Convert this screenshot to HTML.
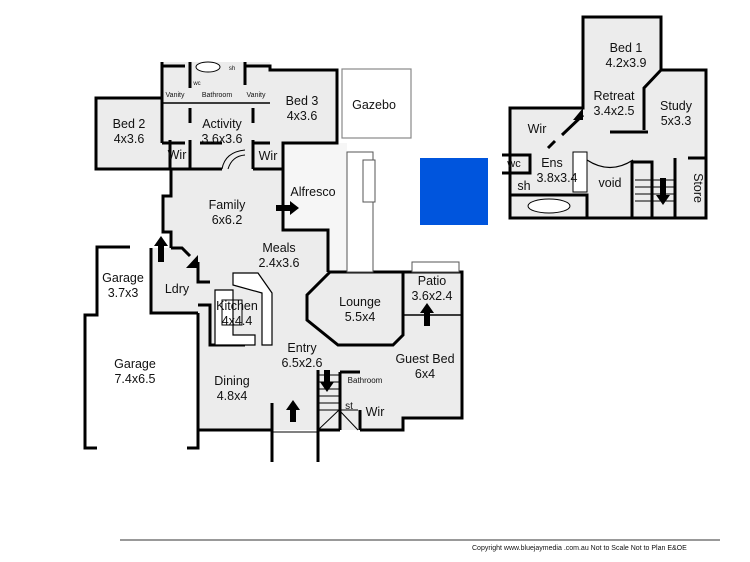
<!DOCTYPE html>
<html><head><meta charset="utf-8"><style>
html,body{margin:0;padding:0;background:#fff;}
svg{display:block;}
text{font-family:"Liberation Sans",Arial,sans-serif;fill:#111;}
.l{font-size:12.5px;text-anchor:middle;}
.s{font-size:8px;text-anchor:middle;}
</style></head><body>
<svg width="750" height="562" viewBox="0 0 750 562" xmlns="http://www.w3.org/2000/svg">
<polygon fill="#ececec" points="96,98 162,98 162,62 270,62 270,70 337,70 337,143 283,143 283,230 328,230 328,272 462,272 462,418 403,418 403,430 198,430 198,313 151,313 151,248 171,248 171,232 163,232 163,196 171,196 171,169 96,169"/>
<polygon fill="#f6f6f6" points="283,143 347,143 347,272 328,272 328,230 283,230"/>
<g fill="none" stroke="#000" stroke-width="3">
<polyline points="171,169 96,169 96,98 162,98 162,62"/>
<polyline points="245,62 245,66 270,66 270,70 337,70 337,143 283,143 283,230 328,230 328,272"/>
<polyline points="162,66 185,66"/>
<polygon points="330,272 403,272 403,335 393,345 338,345 307,320 307,295"/>
<polyline points="403,272 462,272 462,418 403,418 403,430 360,430"/>
<polyline points="340,430 318,430"/>
<polyline points="272,430 198,430 198,313"/>
<polyline points="171,169 171,196 163,196 163,232 171,232 171,248"/>
<polyline points="151,248 151,313 198,313"/>
<polyline points="171,248 182,248 190,256"/>
<polyline points="198,262 198,282 210,282"/>
<polyline points="198,305 210,305 210,345 245,345"/>
<line x1="162" y1="98" x2="162" y2="143"/>
<line x1="162" y1="143" x2="185" y2="143"/>
<line x1="200" y1="143" x2="222" y2="143"/>
<line x1="190" y1="108" x2="190" y2="123"/>
<line x1="253" y1="108" x2="253" y2="123"/>
<line x1="170" y1="140" x2="170" y2="169"/>
<line x1="190" y1="140" x2="190" y2="169"/>
<line x1="253" y1="140" x2="253" y2="169"/>
<line x1="253" y1="143" x2="270" y2="143"/>
<line x1="253" y1="169" x2="283" y2="169"/>
<line x1="171" y1="169" x2="222" y2="169"/>
<line x1="190" y1="62" x2="190" y2="88"/>
<line x1="245" y1="66" x2="245" y2="85"/>
<polyline points="130,247 97,247 97,315 85,315 85,448 97,448"/>
<polyline points="187,448 198,448 198,430"/>
<line x1="272" y1="430" x2="272" y2="462"/>
<line x1="318" y1="430" x2="318" y2="462"/>
<line x1="272" y1="403" x2="272" y2="430"/>
<polyline points="340,372 360,372 M373,372 393,372 393,392 340,392"/>
<line x1="340" y1="372" x2="340" y2="430"/>
<line x1="360" y1="410" x2="360" y2="430"/>
<line x1="318" y1="370" x2="318" y2="430"/>
</g>
<line x1="162" y1="103" x2="270" y2="103" stroke="#000" stroke-width="1.5"/>
<line x1="403" y1="315" x2="462" y2="315" stroke="#000" stroke-width="1.5"/>
<line x1="272" y1="432" x2="318" y2="432" stroke="#000" stroke-width="1"/>
<path d="M222,169 Q225,152 245,150" fill="none" stroke="#000" stroke-width="1"/>
<path d="M228,169 Q232,156 245,155" fill="none" stroke="#000" stroke-width="1"/>
<polygon points="233,273 258,273 272,293 272,345 262,345 262,293 233,285" fill="#fff" stroke="#000" stroke-width="1.2"/>
<polygon points="215,290 233,290 233,335 255,335 255,345 215,345" fill="#fff" stroke="#000" stroke-width="1.2"/>
<rect x="222" y="300" width="20" height="25" fill="none" stroke="#000" stroke-width="1"/>
<rect x="347" y="152" width="26" height="120" fill="#fff" stroke="#555" stroke-width="1"/>
<rect x="363" y="160" width="12" height="42" fill="#fff" stroke="#555" stroke-width="1"/>
<rect x="412" y="262" width="47" height="10" fill="#fff" stroke="#555" stroke-width="1"/>
<g stroke="#000" stroke-width="1">
<line x1="318" y1="375" x2="340" y2="375"/><line x1="318" y1="382" x2="340" y2="382"/><line x1="318" y1="389" x2="340" y2="389"/><line x1="318" y1="396" x2="340" y2="396"/><line x1="318" y1="403" x2="340" y2="403"/><line x1="318" y1="410" x2="358" y2="410"/>
<line x1="318" y1="430" x2="339" y2="410"/><line x1="339" y1="410" x2="358" y2="430"/>
</g>
<g fill="#000">
<polygon points="276,205 290,205 290,201 299,208 290,215 290,211 276,211"/>
<polygon points="158,262 158,246 154,246 161,236 168,246 164,246 164,262"/>
<polygon points="424,326 424,313 420,313 427,303 434,313 430,313 430,326"/>
<polygon points="290,422 290,410 286,410 293,400 300,410 296,410 296,422"/>
<polygon points="324,370 324,382 320,382 327,392 334,382 330,382 330,370"/>
<polygon points="186,268 198,268 198,255"/>
</g>
<ellipse cx="208" cy="67" rx="12" ry="5" fill="#fff" stroke="#000"/>
<rect x="342" y="69" width="69" height="69" fill="#fff" stroke="#888" stroke-width="1.2"/>
<rect x="420" y="158" width="68" height="67" fill="#0055dd"/>
<polygon fill="#ececec" stroke="#000" stroke-width="3" points="583,17 661,17 661,70 706,70 706,218 510,218 510,108 583,108"/>
<g fill="none" stroke="#000" stroke-width="3">
<polyline points="661,70 644,88 644,130"/>
<line x1="610" y1="132" x2="648" y2="132"/>
<line x1="562" y1="135" x2="583" y2="115"/>
<line x1="548" y1="148" x2="555" y2="141"/>
<polyline points="502,155 530,155 530,173 502,173"/>
<polyline points="510,195 587,195 587,218"/>
<polyline points="632,218 632,162 652,162 652,218"/>
<line x1="675" y1="158" x2="675" y2="218"/>
<line x1="688" y1="158" x2="706" y2="158"/>
</g>
<polygon points="583,108 583,120 573,120" fill="#000"/>
<rect x="573" y="152" width="14" height="40" fill="#fff" stroke="#000" stroke-width="1"/>
<ellipse cx="549" cy="206" rx="21" ry="7" fill="#fff" stroke="#000"/>
<path d="M587,160 Q610,175 633,160" fill="none" stroke="#000" stroke-width="1.2"/>
<g stroke="#000" stroke-width="1"><line x1="635" y1="180" x2="675" y2="180"/><line x1="635" y1="187" x2="675" y2="187"/><line x1="635" y1="194" x2="675" y2="194"/><line x1="635" y1="201" x2="675" y2="201"/></g>
<polygon points="660,178 666,178 666,195 670,195 663,205 656,195 660,195" fill="#000"/>
<text class="l" x="129" y="128">Bed 2</text><text class="l" x="129" y="143">4x3.6</text>
<text class="l" x="222" y="128">Activity</text><text class="l" x="222" y="143">3.6x3.6</text>
<text class="l" x="302" y="105">Bed 3</text><text class="l" x="302" y="120">4x3.6</text>
<text class="l" x="177" y="159">Wir</text><text class="l" x="268" y="160">Wir</text>
<text class="s" x="175" y="97" style="font-size:7px">Vanity</text>
<text class="s" x="217" y="97" style="font-size:7px">Bathroom</text>
<text class="s" x="256" y="97" style="font-size:7px">Vanity</text>
<text class="s" x="197" y="85" style="font-size:6px">wc</text>
<text class="s" x="232" y="70" style="font-size:6px">sh</text>
<text class="l" x="374" y="109">Gazebo</text>
<text class="l" x="313" y="196">Alfresco</text>
<text class="l" x="227" y="209">Family</text><text class="l" x="227" y="224">6x6.2</text>
<text class="l" x="279" y="252">Meals</text><text class="l" x="279" y="267">2.4x3.6</text>
<text class="l" x="123" y="282">Garage</text><text class="l" x="123" y="297">3.7x3</text>
<text class="l" x="177" y="293">Ldry</text>
<text class="l" x="237" y="310">Kitchen</text><text class="l" x="237" y="325">4x4.4</text>
<text class="l" x="360" y="306">Lounge</text><text class="l" x="360" y="321">5.5x4</text>
<text class="l" x="432" y="285">Patio</text><text class="l" x="432" y="300">3.6x2.4</text>
<text class="l" x="302" y="352">Entry</text><text class="l" x="302" y="367">6.5x2.6</text>
<text class="l" x="135" y="368">Garage</text><text class="l" x="135" y="383">7.4x6.5</text>
<text class="l" x="232" y="385">Dining</text><text class="l" x="232" y="400">4.8x4</text>
<text class="l" x="425" y="363">Guest Bed</text><text class="l" x="425" y="378">6x4</text>
<text class="s" x="365" y="383">Bathroom</text>
<text class="l" x="349" y="409" style="font-size:10px">st</text>
<text class="l" x="375" y="416">Wir</text>
<text class="l" x="626" y="52">Bed 1</text><text class="l" x="626" y="67">4.2x3.9</text>
<text class="l" x="614" y="100">Retreat</text><text class="l" x="614" y="115">3.4x2.5</text>
<text class="l" x="676" y="110">Study</text><text class="l" x="676" y="125">5x3.3</text>
<text class="l" x="537" y="133">Wir</text>
<text class="l" x="514" y="167" style="font-size:11px">wc</text>
<text class="l" x="552" y="167">Ens</text><text class="l" x="557" y="182">3.8x3.4</text>
<text class="l" x="524" y="190">sh</text>
<text class="l" x="610" y="187">void</text>
<text class="l" x="0" y="0" transform="translate(694,188) rotate(90)">Store</text>
<line x1="120" y1="540" x2="720" y2="540" stroke="#333" stroke-width="1"/>
<text x="472" y="550" style="font-size:7px">Copyright www.bluejaymedia .com.au   Not to Scale Not to Plan E&amp;OE</text>
</svg>
</body></html>
